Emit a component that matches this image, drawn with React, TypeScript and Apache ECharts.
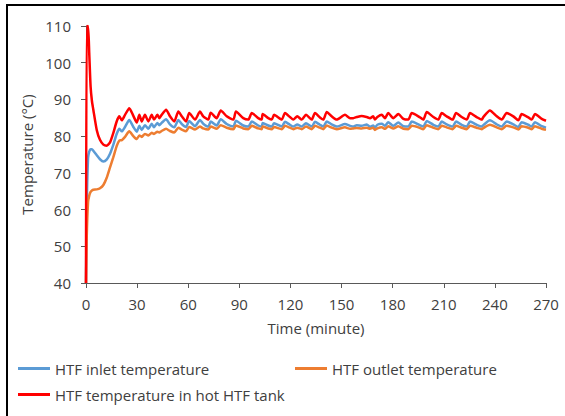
import React, { useEffect, useRef } from "react";
import * as echarts from "echarts";

const times = [
  0, 0.4, 1.2, 1.9, 2.7, 3.5, 4.3, 6.3, 8.2, 10.2, 12.1, 14.1, 16, 18, 19.6, 21, 22.9, 25.4, 27.8, 29.8,
  31.3, 32.7, 34.6, 36.6, 38.6, 39.9, 41.9, 43, 44.4, 47, 49.3, 51.8, 54.2, 56.2, 58.7, 60.6, 64, 66.9, 68.8, 71.8,
  73.2, 76.7, 79.1, 82.6, 86.5, 88, 92.3, 95.3, 97.3, 101.1, 103.1, 103.7, 107, 109, 110.4, 114.9, 116.8, 119.7, 121.7, 124,
  126.6, 129.1, 132.5, 134.4, 137.3, 139.3, 141.3, 144.2, 147.2, 152, 155, 156.9, 158.9, 161.8, 164.8, 166.7, 168.6, 169.6, 171, 173.6,
  175.5, 177.4, 180.4, 183.3, 186.3, 189.2, 191.2, 195.1, 198, 200, 203.9, 206.8, 208.8, 211.7, 215.2, 217.2, 220.5, 223.5, 225.4, 229.3,
  232.3, 233.2, 237.1, 241.1, 244, 246.9, 250.8, 253.8, 255.7, 259.6, 261.6, 263.5, 267.5, 270,
];

const tankTemp = [
  40, 110, 110, 102.6, 93.5, 89.5, 87.2, 81.7, 79, 77.7, 77.4, 78.3, 80.8, 84, 85.4, 84.3, 85.8, 87.6, 85.5, 83.7,
  85.8, 84, 85.8, 84, 85.8, 84.5, 85.8, 84.9, 85.8, 87.2, 85.4, 84, 86.7, 85.4, 84, 86.3, 84.5, 86.7, 85.4, 84.5,
  86.4, 84.9, 87, 85.4, 84.5, 86.7, 84.9, 84.5, 86.3, 84.9, 84.5, 86, 84.9, 84.5, 85.8, 84.5, 86.3, 85.2, 84.5, 85.4,
  84.5, 85.8, 84.5, 86.3, 85.1, 84.5, 86.6, 85.4, 84.5, 85.8, 84.9, 84.9, 85.2, 85.5, 85.2, 84.9, 85.4, 84.5, 85.2, 85.8,
  84.9, 86.3, 84.9, 86, 84.7, 84.5, 86.3, 85.4, 84.5, 86.6, 85.2, 84.5, 86.3, 85.4, 84.5, 86.3, 85.2, 84.5, 86.3, 85.2,
  84.5, 85.2, 87, 85.4, 84.5, 86.3, 85.4, 84.3, 86, 85.1, 84.5, 86, 84.7, 84.2,
];

const inletTemp = [
  40, 60, 74, 75.8, 76.4, 76.4, 76, 74.8, 73.7, 73.1, 73.6, 75.2, 77.6, 80.6, 82, 81.3, 82.5, 84.4, 82.5, 81.2,
  82.8, 81.7, 83, 82, 83.4, 82.4, 83.6, 83, 83.6, 84.6, 83.2, 82.4, 84.4, 83.3, 82.5, 84.1, 82.7, 84.4, 83.4, 82.6,
  84, 82.9, 84.6, 83.3, 82.6, 84.2, 82.9, 82.6, 84, 82.9, 82.6, 83.6, 82.9, 82.6, 83.5, 82.6, 83.9, 83.1, 82.6, 83.2,
  82.6, 83.5, 82.6, 83.9, 83.1, 82.6, 84, 83.2, 82.6, 83.3, 82.8, 82.6, 83, 82.8, 83.2, 82.5, 82.9, 82.3, 83.1, 83.4,
  82.8, 83.8, 82.8, 83.7, 82.7, 82.6, 84, 83.2, 82.6, 84.1, 83.1, 82.6, 84, 83.2, 82.6, 84, 83.1, 82.6, 84, 83.1,
  82.6, 83, 84.3, 83.2, 82.6, 84, 83.2, 82.5, 83.8, 83.1, 82.6, 83.8, 82.7, 82.3,
];

const outletTemp = [
  40, 52, 62, 63.8, 64.8, 65.2, 65.4, 65.5, 65.8, 66.7, 68.6, 71.5, 74.2, 77.3, 78.8, 78.9, 79.8, 81.3, 80, 79.2,
  80.2, 79.8, 80.6, 80.2, 80.9, 80.6, 81.2, 81, 81.4, 82, 81.4, 81, 82.3, 81.8, 81.3, 82.5, 81.8, 82.6, 82.1, 81.8,
  82.6, 82, 83, 82.3, 81.9, 82.9, 82.1, 81.9, 82.8, 82.1, 81.9, 82.6, 82.1, 81.9, 82.5, 81.9, 82.8, 82.3, 81.9, 82.3,
  81.9, 82.6, 81.9, 82.8, 82.3, 81.9, 82.9, 82.3, 81.9, 82.4, 82, 82.1, 82.2, 82.1, 82.3, 82, 82.3, 81.7, 82.1, 82.4,
  82, 82.7, 82.1, 82.7, 82, 81.9, 82.8, 82.4, 81.9, 83, 82.3, 81.9, 82.8, 82.4, 81.9, 82.8, 82.3, 81.9, 82.8, 82.3,
  81.9, 82.2, 83.1, 82.4, 81.9, 82.8, 82.4, 81.8, 82.7, 82.3, 81.9, 82.7, 82, 81.7,
];

const xTicks = { min: 0, max: 270, interval: 30 };
const yTicks = { min: 40, max: 110, interval: 10 };

const seriesNames = ["HTF inlet temperature", "HTF outlet temperature", "HTF temperature in hot HTF tank"];
const seriesColors = ["#5B9BD5", "#ED7D31", "#FF0000"];

const FONT = "Open Sans";
const FS = 15;
const TEXT_COLOR = "#404040";

export default function App() {
  const ref = useRef<HTMLDivElement>(null);
  useEffect(() => {
    if (!ref.current) return;
    const chart = echarts.init(ref.current, undefined, { renderer: "svg" });
    const values = [inletTemp, outletTemp, tankTemp];
    const legendBase = {
      icon: "rect",
      itemWidth: 32,
      itemHeight: 3,
      textStyle: { fontFamily: FONT, fontSize: FS, color: TEXT_COLOR },
    };
    chart.setOption({
      animation: false,
      backgroundColor: "#ffffff",
      grid: { left: 86, right: 19, top: 26, bottom: 133, containLabel: false },
      xAxis: {
        type: "value",
        min: xTicks.min,
        max: xTicks.max,
        interval: xTicks.interval,
        name: "Time (minute)",
        nameLocation: "middle",
        nameGap: 37,
        nameTextStyle: { fontFamily: FONT, fontSize: FS, color: TEXT_COLOR },
        axisLine: { show: true, lineStyle: { color: "#595959", width: 1 } },
        axisTick: { show: true, length: 5, lineStyle: { color: "#595959" } },
        axisLabel: { fontFamily: FONT, fontSize: FS, color: TEXT_COLOR, margin: 13 },
        splitLine: { show: false },
      },
      yAxis: {
        type: "value",
        min: yTicks.min,
        max: yTicks.max,
        interval: yTicks.interval,
        name: "Temperature (°C)",
        nameLocation: "middle",
        nameGap: 48,
        nameTextStyle: { fontFamily: FONT, fontSize: FS, color: TEXT_COLOR },
        axisLine: { show: true, lineStyle: { color: "#595959", width: 1 } },
        axisTick: { show: true, length: 5, lineStyle: { color: "#595959" } },
        axisLabel: { fontFamily: FONT, fontSize: FS, color: TEXT_COLOR, margin: 15 },
        splitLine: { show: false },
      },
      legend: [
        { ...legendBase, left: 13, top: 356, data: [seriesNames[0]] },
        { ...legendBase, left: 290, top: 356, data: [seriesNames[1]] },
        { ...legendBase, left: 13, top: 382, data: [seriesNames[2]] },
      ],
      graphic: [
        {
          type: "rect",
          shape: { x: 7, y: 5, width: 600, height: 460 },
          style: { fill: "none", stroke: "#000000", lineWidth: 2 },
          silent: true,
          z: 100,
        },
      ],
      series: seriesNames.map((name, i) => ({
        name,
        type: "line",
        showSymbol: false,
        symbol: "none",
        smooth: 0.2,
        color: seriesColors[i],
        lineStyle: { color: seriesColors[i], width: 2.5 },
        data: times.map((t, k) => [t, values[i][k]]),
      })),
    });
    return () => chart.dispose();
  }, []);
  return (
    <div
      ref={ref}
      style={{ position: "fixed", left: 0, top: 0, width: 565, height: 416 }}
    />
  );
}
